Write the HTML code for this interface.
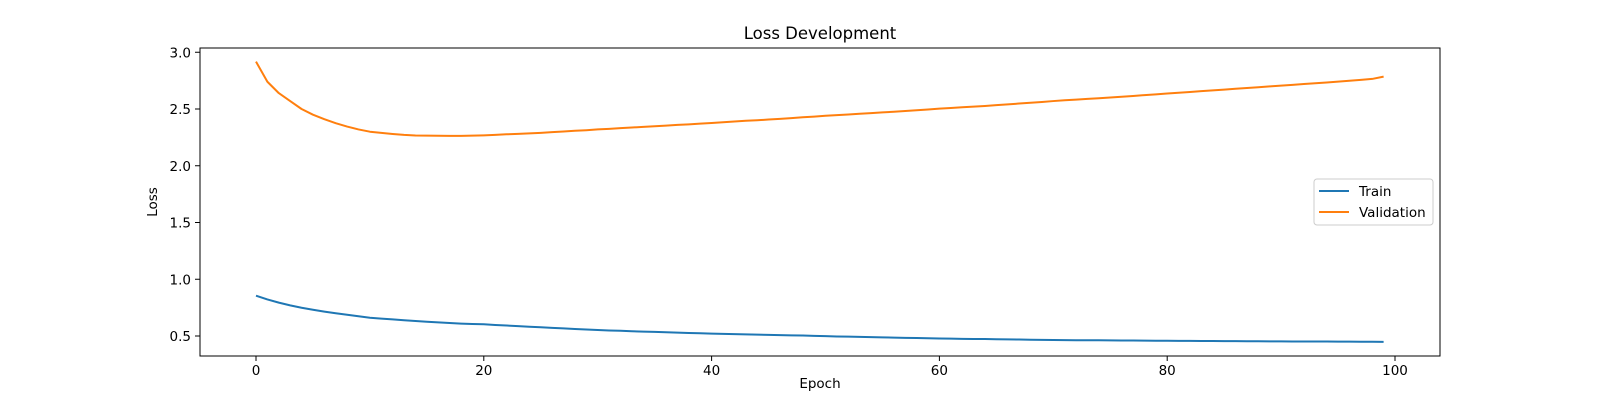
<!DOCTYPE html>
<html><head><meta charset="utf-8"><style>
html,body{margin:0;padding:0;background:#fff;}
svg text{font-family:"DejaVu Sans","Liberation Sans",sans-serif;fill:#000;}
</style></head><body>
<svg id="chart" width="1600" height="400" xmlns="http://www.w3.org/2000/svg">
<rect width="1600" height="400" fill="#fff"/>
<text x="820" y="39" font-size="16.5" text-anchor="middle">Loss Development</text>
<g id="plot"></g>
<rect x="200" y="48" width="1240" height="308" fill="none" stroke="#000" stroke-width="1"/>
<g id="xt"></g><g id="yt"></g>
<text x="820" y="388" font-size="13.5" text-anchor="middle">Epoch</text>
<text transform="translate(157,202) rotate(-90)" font-size="13.5" text-anchor="middle">Loss</text>
<g>
<rect x="1314" y="179" width="119" height="46" rx="3" fill="#fff" fill-opacity="0.8" stroke="#ccc"/>
<line x1="1319" y1="191" x2="1349" y2="191" stroke="#1f77b4" stroke-width="2"/>
<text x="1359" y="196" font-size="13.5">Train</text>
<line x1="1319" y1="212" x2="1349" y2="212" stroke="#ff7f0e" stroke-width="2"/>
<text x="1359" y="217" font-size="13.5">Validation</text>
</g>
</svg>
<script>
const trainLoss=[.855,.822,.794,.770,.749,.731,.715,.700,.687,.674,
.661,.653,.646,.639,.632,.626,.620,.614,.609,.606,
.603,.597,.592,.587,.582,.577,.572,.567,.562,.557,
.553,.549,.546,.542,.539,.536,.533,.530,.527,.524,
.521,.519,.517,.514,.512,.510,.508,.506,.504,.501,
.499,.496,.494,.492,.490,.488,.486,.484,.482,.480,
.478,.477,.475,.474,.473,.471,.470,.469,.467,.466,
.465,.464,.463,.463,.462,.461,.460,.460,.459,.458,
.458,.457,.457,.456,.456,.455,.455,.454,.454,.453,
.453,.452,.452,.451,.451,.450,.450,.449,.449,.448];
const valLoss=[2.917,2.74,2.64,2.57,2.50,2.45,2.41,2.375,2.345,2.32,
2.30,2.29,2.28,2.272,2.267,2.265,2.264,2.263,2.263,2.265,
2.268,2.272,2.277,2.281,2.285,2.29,2.296,2.302,2.308,2.313,
2.32,2.325,2.331,2.337,2.342,2.348,2.354,2.36,2.365,2.371,
2.377,2.383,2.39,2.396,2.401,2.407,2.413,2.42,2.427,2.433,
2.44,2.446,2.452,2.458,2.464,2.47,2.476,2.482,2.489,2.496,
2.503,2.509,2.515,2.521,2.527,2.534,2.541,2.548,2.555,2.562,
2.57,2.577,2.583,2.589,2.595,2.601,2.608,2.615,2.622,2.629,
2.636,2.643,2.65,2.657,2.664,2.671,2.678,2.685,2.692,2.699,
2.706,2.713,2.72,2.727,2.734,2.741,2.749,2.757,2.765,2.785];
const xTicks=[0,20,40,60,80,100];
const yTicks=[0.5,1.0,1.5,2.0,2.5,3.0];
const NS="http://www.w3.org/2000/svg";
const X=e=>256+(e-0)*11.39;
const Y=v=>336-(v-0.5)*113.5;
function mk(t,a){const el=document.createElementNS(NS,t);for(const k in a)el.setAttribute(k,a[k]);return el;}
const plot=document.getElementById('plot');
function line(arr,color,name){
  const d=arr.map((v,i)=>(i?'L':'M')+X(i).toFixed(2)+','+Y(v).toFixed(2)).join('');
  const p=mk('path',{d:d,fill:'none',stroke:color,'stroke-width':2,'stroke-linejoin':'round'});
  
  
  plot.appendChild(p);
}
line(trainLoss,'#1f77b4','train-line');
line(valLoss,'#ff7f0e','validation-line');
const xt=document.getElementById('xt');
xTicks.forEach(t=>{
  const l=mk('line',{x1:X(t),x2:X(t),y1:356,y2:361,stroke:'#000'});
  
  
  xt.appendChild(l);
  const tx=mk('text',{x:X(t),y:375,'font-size':13.5,'text-anchor':'middle'});
  tx.textContent=t;
  
  
  xt.appendChild(tx);
});
const yt=document.getElementById('yt');
yTicks.forEach(t=>{
  const l=mk('line',{x1:195,x2:200,y1:Y(t),y2:Y(t),stroke:'#000'});
  
  
  yt.appendChild(l);
  const tx=mk('text',{x:191,y:Y(t)+5,'font-size':13.5,'text-anchor':'end'});
  tx.textContent=t.toFixed(1);
  
  
  yt.appendChild(tx);
});
</script>
</body></html>
